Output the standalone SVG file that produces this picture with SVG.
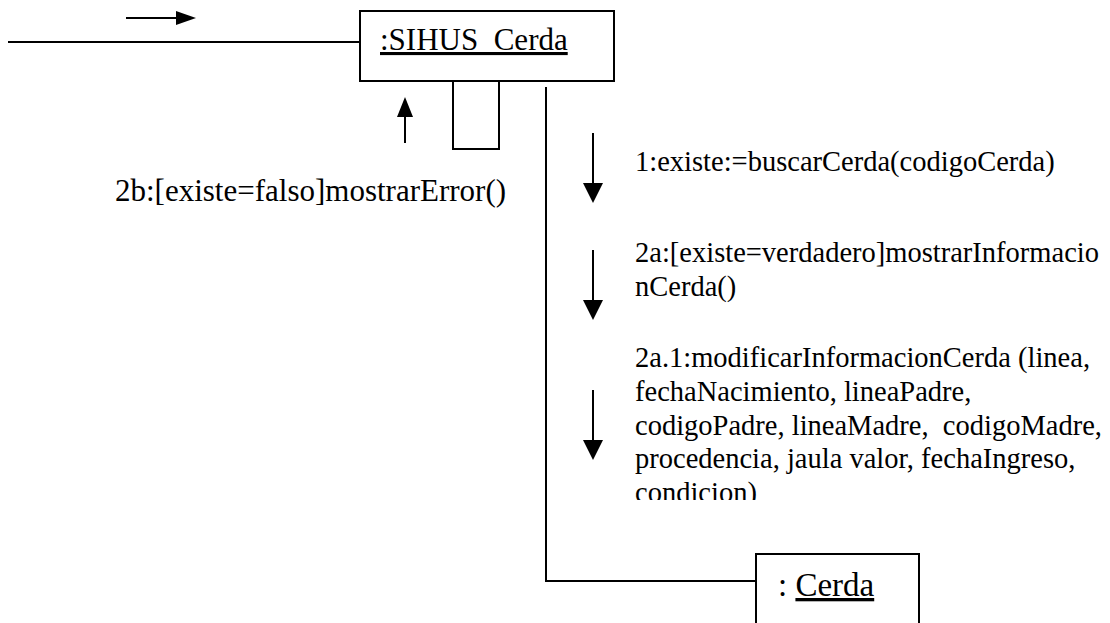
<svg xmlns="http://www.w3.org/2000/svg" width="1110" height="623" viewBox="0 0 1110 623">
<style>
text{font-family:"Liberation Serif","Times New Roman",serif;font-size:28.5px;fill:#000}
.big{font-size:31px}
.ln{stroke:#000;stroke-width:2;fill:none}
.box{stroke:#000;stroke-width:2;fill:#fff}
.ah{fill:#000}
</style>
<defs>
<clipPath id="clip2a1"><rect x="620" y="330" width="490" height="170"/></clipPath>
</defs>
<rect width="1110" height="623" fill="#fff"/>
<g id="connectors">
<line class="ln" x1="8" y1="42" x2="360" y2="42"/>
<path class="ln" d="M453,81 V149 H499 V81"/>
<path class="ln" d="M546,87 V581 H756"/>
</g>
<g id="messages">
<line class="ln" x1="126" y1="18" x2="178" y2="18"/>
<polygon class="ah" points="176,11 196,18 176,25"/>
<line class="ln" x1="405" y1="143" x2="405" y2="114"/>
<polygon class="ah" points="397,117 405,97 413,117"/>
<text class="big" x="115" y="201">2b:[existe=falso]mostrarError()</text>
<line class="ln" x1="593" y1="133" x2="593" y2="185"/>
<polygon class="ah" points="583,183 593,203 603,183"/>
<text x="635" y="171">1:existe:=buscarCerda(codigoCerda)</text>
<line class="ln" x1="593" y1="250" x2="593" y2="302"/>
<polygon class="ah" points="583,300 593,320 603,300"/>
<text x="635" y="262">2a:[existe=verdadero]mostrarInformacio</text>
<text x="635" y="296">nCerda()</text>
<line class="ln" x1="593" y1="390" x2="593" y2="442"/>
<polygon class="ah" points="583,440 593,460 603,440"/>
<g clip-path="url(#clip2a1)">
<text x="635" y="367">2a.1:modificarInformacionCerda (linea,</text>
<text x="635" y="401">fechaNacimiento, lineaPadre,</text>
<text x="635" y="435" xml:space="preserve">codigoPadre, lineaMadre,  codigoMadre,</text>
<text x="635" y="468">procedencia, jaula valor, fechaIngreso,</text>
<text x="635" y="502">condicion)</text>
</g>
</g>
<g id="node-sihus">
<rect class="box" x="360" y="11" width="254" height="70"/>
<text class="big" x="380" y="50" text-decoration="underline">:SIHUS_Cerda</text>
</g>
<g id="node-cerda">
<rect class="box" x="756" y="554" width="163" height="80"/>
<text x="778" y="596" style="font-size:33px">: <tspan text-decoration="underline">Cerda</tspan></text>
</g>
</svg>
